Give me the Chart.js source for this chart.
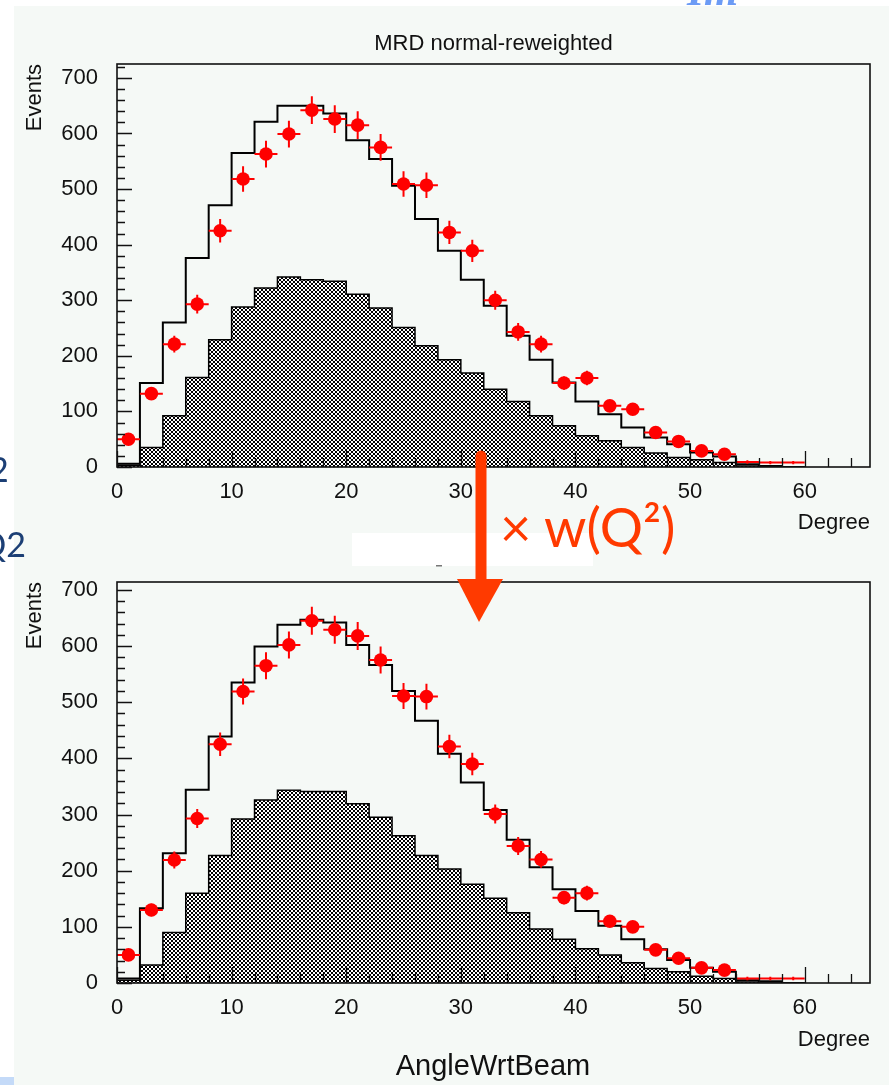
<!DOCTYPE html>
<html>
<head>
<meta charset="utf-8">
<script src="https://cdn.jsdelivr.net/npm/chart.js@4.4.1/dist/chart.umd.min.js"></script>
<style>
    html, body { margin: 0; padding: 0; background: #fff; }
    body { width: 889px; height: 1085px; position: relative; overflow: hidden; }
    #panel { position: absolute; left: 14px; top: 6px; width: 875px; height: 1079px; background: #f5f9f6; }
    canvas { position: absolute; left: 0; }
    #topChart { top: 0; }
    #bottomChart { top: 545px; }
    #overlay { position: absolute; left: 0; top: 0; }
</style>
</head>
<body>
<div id="panel"></div>
<canvas id="topChart" width="889" height="545"></canvas>
<canvas id="bottomChart" width="889" height="540"></canvas>
<svg id="overlay" width="889" height="1085">
    <!-- bits of the slide around the plots -->
    <text x="687" y="5" font-family="'Liberation Serif', serif" font-style="italic" font-weight="bold" font-size="44" fill="#6c9bf5">Im</text>
    <text x="-11" y="482" font-family="Lato, sans-serif" font-size="34" fill="#1c3f75">2</text>
    <text x="-21" y="557" font-family="Lato, sans-serif" font-size="34" fill="#1c3f75">Q2</text>
    <rect x="0" y="1077" width="14" height="8" fill="#c4daf8"/>
    <rect x="352" y="533" width="241" height="33" fill="#ffffff"/>
    <rect x="436" y="565" width="6" height="1.5" fill="#777"/>
    <!-- reweighting arrow -->
    <line x1="481" y1="456" x2="481" y2="582" stroke="#ff3a00" stroke-width="11" stroke-linecap="round"/>
    <polygon points="457,579 503,579 479,622" fill="#ff3a00"/>
    <text x="500" y="547" font-family="Lato, sans-serif" font-size="54" fill="#ff3a00">× w(Q²)</text>
    <text x="493" y="1075" text-anchor="middle" font-family="'Liberation Sans', Arial, sans-serif" font-size="29" fill="#111">AngleWrtBeam</text>
</svg>

<script>
// 2-degree bins from 0 to 60 deg
const binCentres = [1, 3, 5, 7, 9, 11, 13, 15, 17, 19, 21, 23, 25, 27, 29,
                    31, 33, 35, 37, 39, 41, 43, 45, 47, 49, 51, 53, 55, 57, 59];
const binHalfWidth = 1;
const xTicks = [0, 10, 20, 30, 40, 50, 60];
const yTicks = [0, 100, 200, 300, 400, 500, 600, 700];

// upper plot (MRD normal)
const topData = [50, 132, 221, 293, 425, 518, 563, 599, 642, 626, 615, 575, 509, 507, 422,
                 389, 300, 243, 221, 151, 160, 110, 104, 62, 46, 29, 23, 9, 8, 8];
const topMC   = [6, 151, 260, 376, 471, 565, 621, 650, 650, 636, 588, 554, 506, 446, 389,
                 337, 290, 236, 193, 152, 118, 95, 71, 53, 41, 26, 19, 5, 2, 0];
const topBkg  = [3, 35, 92, 161, 229, 288, 322, 342, 337, 334, 311, 286, 251, 218, 193,
                 169, 140, 118, 92, 74, 56, 47, 35, 25, 17, 13, 8, 2, 0, 0];

// lower plot (reweighted)
const botData = [50, 130, 219, 293, 425, 519, 565, 602, 645, 629, 618, 575, 511, 510, 421,
                 390, 301, 244, 220, 152, 160, 110, 100, 59, 44, 27, 23, 8, 8, 8];
const botMC   = [8, 133, 231, 344, 439, 535, 599, 638, 647, 642, 602, 566, 520, 467, 408,
                 357, 308, 255, 206, 167, 128, 102, 78, 60, 41, 27, 20, 5, 3, 0];
const botBkg  = [5, 32, 90, 160, 227, 292, 326, 343, 341, 341, 319, 295, 262, 227, 203,
                 176, 151, 125, 96, 78, 61, 50, 36, 26, 20, 12, 8, 2, 0, 0];

// statistical errors on the data points
const dataErr = [7, 11, 15, 17, 21, 23, 24, 24, 25, 25, 25, 24, 23, 23, 21,
                 20, 17, 16, 15, 12, 13, 10, 10, 8, 7, 5, 5, 3, 3, 3];

const FONT = "'Liberation Sans', Arial, sans-serif";
const tickFont = { family: FONT, size: 22, weight: 'normal' };
const labelFont = { family: FONT, size: 22, weight: 'normal' };

function hatchPattern() {
    const c = document.createElement('canvas');
    c.width = 4; c.height = 4;
    const g = c.getContext('2d');
    g.fillStyle = '#fff';
    g.fillRect(0, 0, 4, 4);
    g.fillStyle = '#000';
    for (let i = 0; i < 4; i++) {
        g.fillRect(i, i, 1, 1);
        g.fillRect(3 - i, i, 1, 1);
    }
    return g.createPattern(c, 'repeat');
}

// left edges of the bins + closing right edge, for stepped lines
function stepPoints(values) {
    const pts = values.map((v, i) => ({ x: binCentres[i] - binHalfWidth, y: v }));
    const last = values.length - 1;
    pts.push({ x: binCentres[last] + binHalfWidth, y: values[last] });
    return pts;
}

// error bars, frame and inward ticks (PAW style)
const histoDecor = {
    id: 'histoDecor',
    afterDatasetsDraw(chart) {
        const { ctx, chartArea: a, scales: { x, y } } = chart;
        const pts = chart.data.datasets[0].data;
        ctx.save();
        ctx.strokeStyle = '#ff0000';
        ctx.lineWidth = 2;
        ctx.beginPath();
        pts.forEach((p, i) => {
            const px = x.getPixelForValue(p.x), py = y.getPixelForValue(p.y);
            ctx.moveTo(x.getPixelForValue(p.x - binHalfWidth), py);
            ctx.lineTo(x.getPixelForValue(p.x + binHalfWidth), py);
            ctx.moveTo(px, y.getPixelForValue(p.y - dataErr[i]));
            ctx.lineTo(px, y.getPixelForValue(p.y + dataErr[i]));
        });
        ctx.stroke();

        ctx.strokeStyle = '#111';
        ctx.lineWidth = 1.6;
        ctx.strokeRect(a.left, a.top, a.right - a.left, a.bottom - a.top);

        ctx.lineWidth = 1.3;
        ctx.beginPath();
        for (let v = 0; v <= y.max; v += 20) {
            const py = Math.round(y.getPixelForValue(v)) + 0.5;
            const len = v % 100 === 0 ? 15 : 8;
            ctx.moveTo(a.left, py);
            ctx.lineTo(a.left + len, py);
        }
        for (let v = 0; v <= x.max; v += 2) {
            const px = Math.round(x.getPixelForValue(v)) + 0.5;
            const len = v % 10 === 0 ? 16 : 9;
            ctx.moveTo(px, a.bottom);
            ctx.lineTo(px, a.bottom - len);
        }
        ctx.stroke();
        ctx.restore();
    }
};

function makeChart(id, o) {
    return new Chart(document.getElementById(id), {
        type: 'line',
        data: {
            datasets: [{
                label: 'Data',
                data: binCentres.map((c, i) => ({ x: c, y: o.data[i] })),
                showLine: false,
                pointStyle: 'circle',
                pointRadius: ctx => (ctx.raw && ctx.raw.y >= 15 ? 6.8 : 0),
                pointBackgroundColor: '#ff0000',
                pointBorderWidth: 0,
                order: 0
            }, {
                label: 'MC',
                data: stepPoints(o.mc),
                stepped: 'before',
                borderColor: '#000',
                borderWidth: 2,
                pointRadius: 0,
                fill: false,
                order: 1
            }, {
                label: 'Background',
                data: stepPoints(o.bkg),
                stepped: 'before',
                borderColor: '#000',
                borderWidth: 1.5,
                backgroundColor: hatchPattern(),
                pointRadius: 0,
                fill: 'origin',
                order: 2
            }]
        },
        options: {
            responsive: false,
            animation: false,
            events: [],
            layout: { padding: { top: o.padTop, left: 0, right: 19, bottom: 0 } },
            plugins: {
                legend: { display: false },
                tooltip: { enabled: false },
                title: {
                    display: !!o.title,
                    text: o.title || '',
                    fullSize: false,
                    color: '#111',
                    font: { family: FONT, size: 22, weight: 'normal' },
                    padding: { top: 30.8, bottom: 6.8 }
                }
            },
            scales: {
                x: {
                    type: 'linear',
                    min: 0,
                    max: 65.7,
                    afterBuildTicks: s => { s.ticks = xTicks.map(v => ({ value: v })); },
                    afterFit: s => { s.height = o.xAxisHeight; },
                    grid: { display: false, drawTicks: false },
                    border: { display: false },
                    ticks: { font: tickFont, color: '#111', padding: 12, maxRotation: 0, autoSkip: false },
                    title: {
                        display: true, text: 'Degree', align: 'end', color: '#111',
                        font: labelFont, padding: { top: 0, bottom: o.degreePad }
                    }
                },
                y: {
                    min: 0,
                    max: o.yMax,
                    afterBuildTicks: s => { s.ticks = yTicks.map(v => ({ value: v })); },
                    afterFit: s => { s.width = 117; },
                    grid: { display: false, drawTicks: false },
                    border: { display: false },
                    ticks: { font: tickFont, color: '#111', padding: 19 },
                    title: {
                        display: true, text: 'Events', align: 'end', color: '#111',
                        font: labelFont, padding: { top: 22, bottom: 0 }
                    }
                }
            }
        },
        plugins: [histoDecor]
    });
}

makeChart('topChart', {
    data: topData, mc: topMC, bkg: topBkg, yMax: 725,
    title: 'MRD normal-reweighted', padTop: 0, xAxisHeight: 78, degreePad: 8.8
});
makeChart('bottomChart', {
    data: botData, mc: botMC, bkg: botBkg, yMax: 714,
    title: null, padTop: 37, xAxisHeight: 102, degreePad: 31.8
});
</script>
</body>
</html>
